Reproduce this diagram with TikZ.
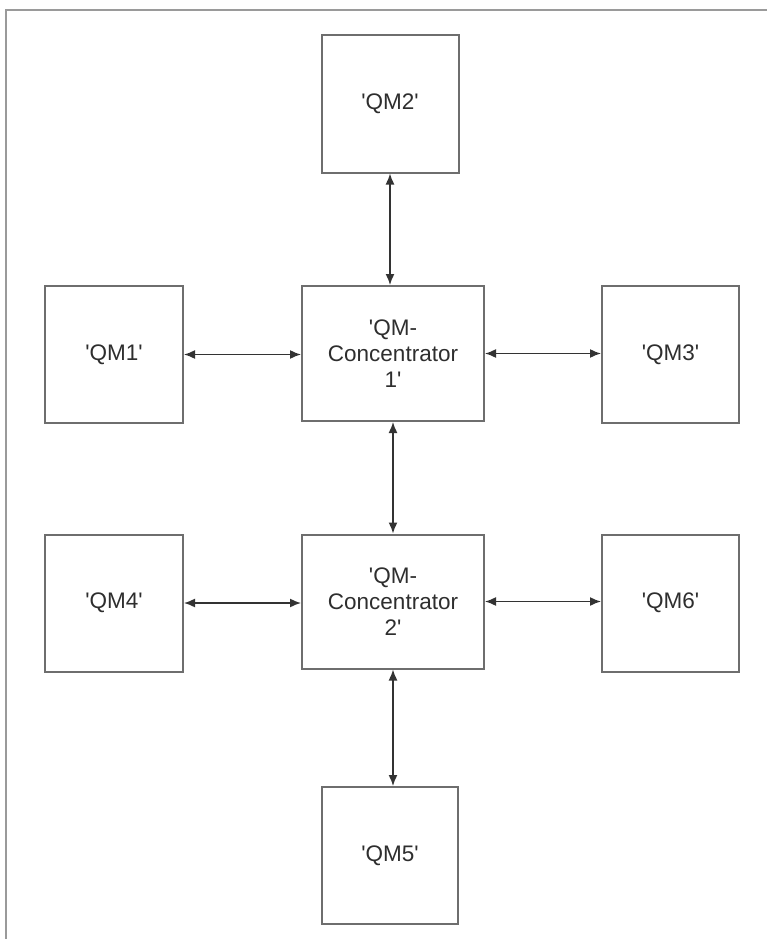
\documentclass[tikz,border=0pt]{standalone}
\usepackage{fontspec}
\setmainfont{Liberation Sans}
\usetikzlibrary{arrows.meta}
\definecolor{boxline}{HTML}{6E6E6E}
\definecolor{frameline}{HTML}{9A9A9A}
\definecolor{arrowline}{HTML}{333333}
\definecolor{txt}{HTML}{2E2E2E}
\newcommand{\sq}{\textquotesingle}
\tikzset{
  qbox/.style={draw=boxline, line width=2pt, fill=white, align=center, text=txt,
    font=\fontsize{22.5}{26}\selectfont, inner sep=0pt},
  link/.style={draw=arrowline, line width=1.5pt, {Latex[length=11pt,width=9pt]}-{Latex[length=11pt,width=9pt]}},
}
\begin{document}
\begin{tikzpicture}[x=1pt,y=-1pt]
\useasboundingbox (0,0) rectangle (767,939);
\draw[frameline, line width=2pt] (6,939) -- (6,10) -- (767,10);

\node[qbox, minimum width=137pt, minimum height=137pt] (qm2) at (390,104) {\sq QM2\sq};
\node[qbox, minimum width=138pt, minimum height=137pt] (qm1) at (114,354.5) {\sq QM1\sq};
\node[qbox, minimum width=182pt, minimum height=135pt] (qc1) at (393,353.5) {\sq QM-\\Concentrator\\1\sq};
\node[qbox, minimum width=137pt, minimum height=137pt] (qm3) at (670.5,354.5) {\sq QM3\sq};
\node[qbox, minimum width=138pt, minimum height=137pt] (qm4) at (114,603) {\sq QM4\sq};
\node[qbox, minimum width=182pt, minimum height=134pt] (qc2) at (393,601.5) {\sq QM-\\Concentrator\\2\sq};
\node[qbox, minimum width=137pt, minimum height=137pt] (qm6) at (670.5,603) {\sq QM6\sq};
\node[qbox, minimum width=136pt, minimum height=137pt] (qm5) at (390,855.5) {\sq QM5\sq};

\draw[link] (qm1.east) -- (qm1.east -| qc1.west);
\draw[link] (qc1.east) -- (qc1.east -| qm3.west);
\draw[link] (qm4.east) -- (qm4.east -| qc2.west);
\draw[link] (qc2.east) -- (qc2.east -| qm6.west);
\draw[link] (qm2.south) -- (qm2.south |- qc1.north);
\draw[link] (qc1.south) -- (qc1.south |- qc2.north);
\draw[link] (qc2.south) -- (qc2.south |- qm5.north);
\end{tikzpicture}
\end{document}
